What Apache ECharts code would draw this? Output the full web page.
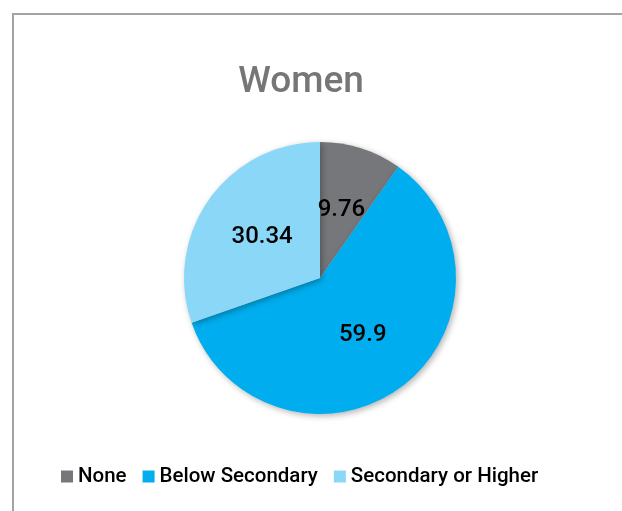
<!DOCTYPE html>
<html><head><meta charset="utf-8">
<script src="https://cdn.jsdelivr.net/npm/echarts@6/dist/echarts.min.js"></script>
<style>
html,body{margin:0;padding:0;background:#fff;}
#frame{position:absolute;left:12px;top:13px;width:610px;height:498px;border-left:2px solid #a3a3a3;border-top:2px solid #a3a3a3;}
#chart{position:absolute;left:0;top:0;width:622px;height:511px;}
</style></head>
<body>
<div id="frame"></div>
<div id="chart"></div>
<script>
const categories = ["None", "Below Secondary", "Secondary or Higher"];
const values = [9.76, 59.9, 30.34];
const colors = ["#76777a", "#00aeef", "#8ad7f8"];
const titleText = "Women";

const chart = echarts.init(document.getElementById('chart'), null, {renderer:'canvas'});
chart.setOption({
  animation:false,
  title:{text:titleText, left:296, top:59, textAlign:'center',
    textStyle:{fontFamily:'Roboto', fontSize:37, fontWeight:500, color:'#767676'}},
  legend:{
    data:categories, bottom:19, left:56,
    icon:'rect', itemWidth:12, itemHeight:12, itemGap:16, itemStyle:{borderWidth:0},
    textStyle:{fontFamily:'Roboto', fontSize:20.5, fontWeight:500, color:'#000'}
  },
  series:[{
    type:'pie', center:[320,278], radius:136, startAngle:90, clockwise:true,
    data: categories.map((c,i)=>({name:c, value:values[i], itemStyle:{color:colors[i]}})),
    label:{show:true, position:'inside', formatter:'{c}', fontFamily:'Roboto', fontSize:24, fontWeight:500, color:'#000'},
    labelLine:{show:false},
    itemStyle:{shadowBlur:6, shadowColor:'rgba(0,0,0,0.3)', shadowOffsetX:2, shadowOffsetY:2},
    emphasis:{disabled:true}
  }]
});
</script>
</body></html>
